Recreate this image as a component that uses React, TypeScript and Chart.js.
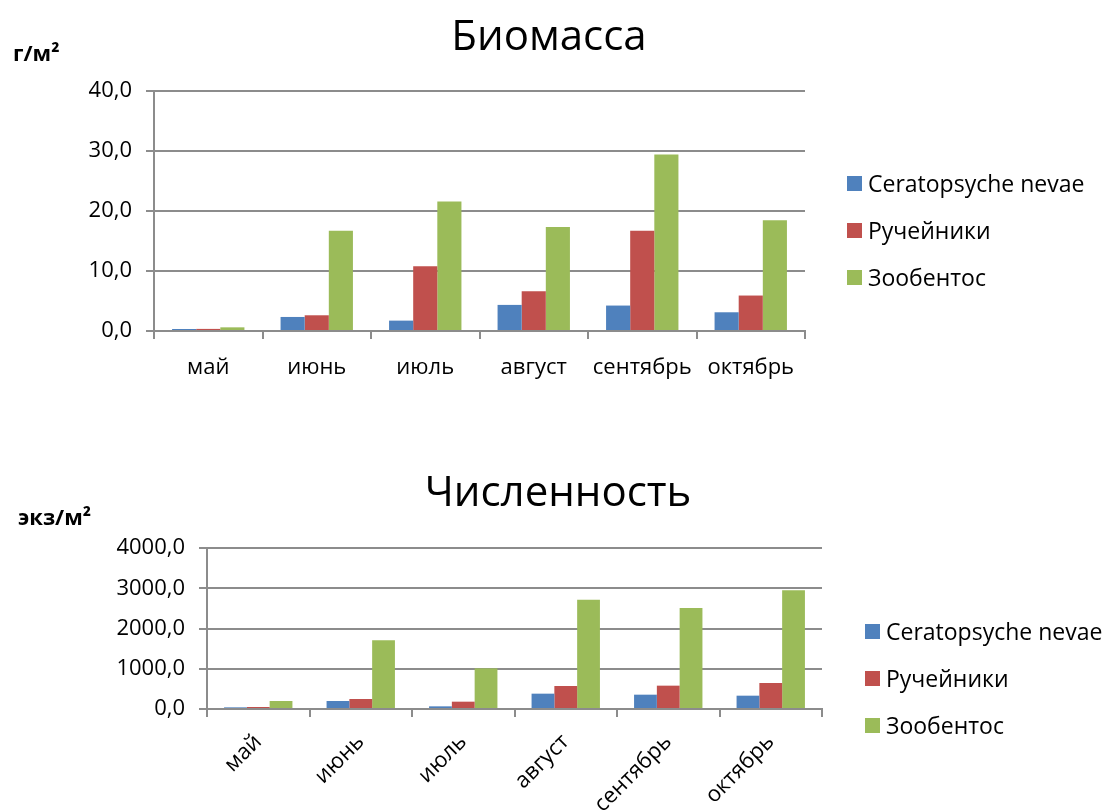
import React, { useEffect, useRef } from "react";
import { Chart, registerables } from "chart.js";

Chart.register(...registerables);

// Months of sampling
const months = ["май", "июнь", "июль", "август", "сентябрь", "октябрь"];

// Biomass, g/m²
const biomassCeratopsyche = [0.33, 2.34, 1.73, 4.35, 4.24, 3.12];
const biomassTrichoptera = [0.35, 2.62, 10.8, 6.64, 16.7, 5.91];
const biomassZoobenthos = [0.61, 16.7, 21.6, 17.35, 29.4, 18.47];

// Abundance, ind./m²
const abundanceCeratopsyche = [41, 199, 66, 381, 356, 331];
const abundanceTrichoptera = [50, 248, 182, 571, 580, 646];
const abundanceZoobenthos = [199, 1706, 1010, 2716, 2509, 2948];

const seriesNames = ["Ceratopsyche nevae", "Ручейники", "Зообентос"];
const seriesColors = ["#4F81BD", "#C0504D", "#9BBB59"];

const FONT = "'Open Sans', 'DejaVu Sans', sans-serif";
const GRID = "#8c8c8c";

type PanelSpec = {
  values: number[][];
  max: number;
  step: number;
  height: number;
  padTop: number;
  axisWidth: number;
  xAxisHeight: number;
  padRight: number;
  rotate: boolean;
  xPad: number;
};

function fmt(v: number) {
  return v.toFixed(1).replace(".", ",");
}

function makeConfig(p: PanelSpec): any {
  return {
    type: "bar",
    data: {
      labels: months,
      datasets: p.values.map((vals, i) => ({
        label: seriesNames[i],
        data: vals,
        backgroundColor: seriesColors[i],
        borderWidth: 0,
        barPercentage: 1,
        categoryPercentage: 0.667,
      })),
    },
    options: {
      responsive: false,
      animation: false,
      devicePixelRatio: 1,
      layout: { padding: { left: 0, right: p.padRight, top: p.padTop, bottom: 0 } },
      plugins: {
        legend: { display: false },
        tooltip: { enabled: false },
        title: { display: false },
      },
      scales: {
        x: {
          offset: true,
          grid: {
            display: true,
            offset: true,
            drawOnChartArea: false,
            drawTicks: true,
            tickLength: 8,
            lineWidth: 2,
            color: GRID,
          },
          border: { display: true, color: GRID, width: 2 },
          ticks: {
            color: "#000",
            font: { family: FONT, size: 22 },
            padding: p.xPad,
            autoSkip: false,
            minRotation: p.rotate ? 45 : 0,
            maxRotation: p.rotate ? 45 : 0,
          },
          afterFit: (scale: any) => {
            scale.height = p.xAxisHeight;
          },
        },
        y: {
          min: 0,
          max: p.max,
          grid: {
            color: GRID,
            lineWidth: 2,
            drawTicks: true,
            tickLength: 8,
          },
          border: { display: true, color: GRID, width: 2 },
          ticks: {
            stepSize: p.step,
            color: "#000",
            font: { family: FONT, size: 22 },
            padding: 14,
            callback: (v: any) => fmt(Number(v)),
          },
          afterFit: (scale: any) => {
            scale.width = p.axisWidth;
          },
        },
      },
    },
  };
}

function Panel({ spec, top }: { spec: PanelSpec; top: number }) {
  const ref = useRef<HTMLCanvasElement | null>(null);
  useEffect(() => {
    if (!ref.current) return;
    const chart = new Chart(ref.current, makeConfig(spec));
    return () => chart.destroy();
  }, [spec]);
  return (
    <canvas
      ref={ref}
      width={1108}
      height={spec.height}
      style={{ position: "absolute", left: 0, top, width: 1108, height: spec.height }}
    />
  );
}

function Legend({ left, top, gap }: { left: number; top: number; gap: number }) {
  return (
    <div style={{ position: "absolute", left, top }}>
      {seriesNames.map((name, i) => (
        <div
          key={name}
          style={{
            position: "absolute",
            left: 0,
            top: i * gap - 15,
            height: 30,
            display: "flex",
            alignItems: "center",
            whiteSpace: "nowrap",
            fontFamily: FONT,
            fontSize: 23,
            color: "#000",
          }}
        >
          <span
            style={{
              display: "inline-block",
              width: 15,
              height: 15,
              background: seriesColors[i],
              marginRight: 6,
            }}
          />
          <span>{name}</span>
        </div>
      ))}
    </div>
  );
}

function Title({ text, x, y }: { text: string; x: number; y: number }) {
  return (
    <div
      style={{
        position: "absolute",
        left: x,
        top: y,
        transform: "translate(-50%, -50%)",
        fontFamily: FONT,
        fontSize: 42,
        lineHeight: "50px",
        color: "#000",
        whiteSpace: "nowrap",
      }}
    >
      {text}
    </div>
  );
}

const biomassSpec: PanelSpec = {
  values: [biomassCeratopsyche, biomassTrichoptera, biomassZoobenthos],
  max: 40,
  step: 10,
  height: 400,
  padTop: 91,
  axisWidth: 154,
  xAxisHeight: 69,
  padRight: 1108 - 805,
  rotate: false,
  xPad: 16,
};

const abundanceSpec: PanelSpec = {
  values: [abundanceCeratopsyche, abundanceTrichoptera, abundanceZoobenthos],
  max: 4000,
  step: 1000,
  height: 412,
  padTop: 148,
  axisWidth: 207,
  xAxisHeight: 103,
  padRight: 1108 - 822,
  rotate: true,
  xPad: 12,
};

const unitStyle: React.CSSProperties = {
  position: "absolute",
  fontFamily: FONT,
  fontWeight: "bold",
  fontSize: 22,
  lineHeight: "26px",
  color: "#000",
  whiteSpace: "nowrap",
};

export default function App() {
  return (
    <div
      style={{
        position: "fixed",
        left: 0,
        top: 0,
        width: 1108,
        height: 812,
        background: "#fff",
        overflow: "hidden",
      }}
    >
      <Panel spec={biomassSpec} top={0} />
      <Panel spec={abundanceSpec} top={400} />
      <Title text="Биомасса" x={549} y={34} />
      <Title text="Численность" x={558} y={490} />
      <div style={{ ...unitStyle, left: 13, top: 39 }}>г/м²</div>
      <div style={{ ...unitStyle, left: 18, top: 503 }}>экз/м²</div>
      <Legend left={847} top={183} gap={47} />
      <Legend left={865} top={631} gap={47} />
    </div>
  );
}
